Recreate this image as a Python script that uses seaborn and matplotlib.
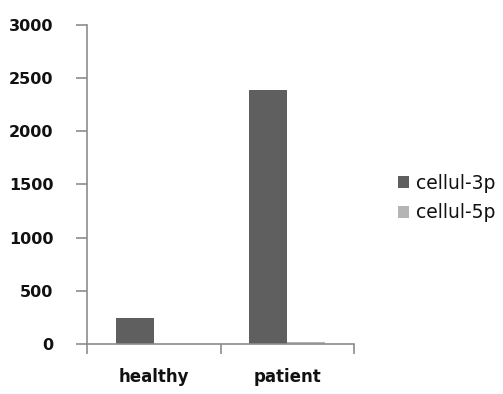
import pandas as pd
import matplotlib
matplotlib.use('Agg')
import matplotlib.pyplot as plt
import seaborn as sns

# Data
groups = ['healthy', 'patient']
series = ['cellul-3p', 'cellul-5p']
values_3p = [242, 2392]
values_5p = [1, 18]
y_ticks = [0, 500, 1000, 1500, 2000, 2500, 3000]

colors = ['#5f5f5f', '#b5b5b5']
axis_gray = '#8c8c8c'

df = pd.DataFrame({
    'group': groups * 2,
    'series': [series[0]] * 2 + [series[1]] * 2,
    'value': values_3p + values_5p,
})

sns.set_theme(style='white')
plt.rcParams['font.family'] = ['DejaVu Sans']

fig = plt.figure(figsize=(5.03, 3.94), dpi=100)
ax = fig.add_axes([0.173, 0.127, 0.531, 0.81])

sns.barplot(data=df, x='group', y='value', hue='series', palette=colors,
            width=0.57, saturation=1, linewidth=0, ax=ax)

ax.set_xlim(-0.5, 1.5)
ax.set_ylim(0, 3000)
ax.set_yticks(y_ticks)
ax.set_xlabel('')
ax.set_ylabel('')

# spines and ticks in the Excel style
sns.despine(ax=ax)
for side in ['left', 'bottom']:
    ax.spines[side].set_color(axis_gray)
    ax.spines[side].set_linewidth(1.2)

ax.tick_params(axis='y', left=True, length=8, width=1.2, color=axis_gray,
               labelsize=11.5, pad=16)
ax.tick_params(axis='x', bottom=False, labelsize=12, pad=11)
for lbl in ax.get_yticklabels() + ax.get_xticklabels():
    lbl.set_fontweight('bold')
    lbl.set_color('#111111')

# category boundary ticks on the x axis
ax.set_xticks([-0.5, 0.5, 1.5], minor=True)
ax.tick_params(axis='x', which='minor', bottom=True, length=7, width=1.2,
               color=axis_gray)

leg = ax.legend(loc='center left', bbox_to_anchor=(1.1, 0.457), frameon=False,
                handlelength=0.6, handleheight=0.6, handletextpad=0.4,
                labelspacing=0.55, prop={'size': 13.5})
for t in leg.get_texts():
    t.set_color('#111111')

fig.savefig('out.png', dpi=100)
